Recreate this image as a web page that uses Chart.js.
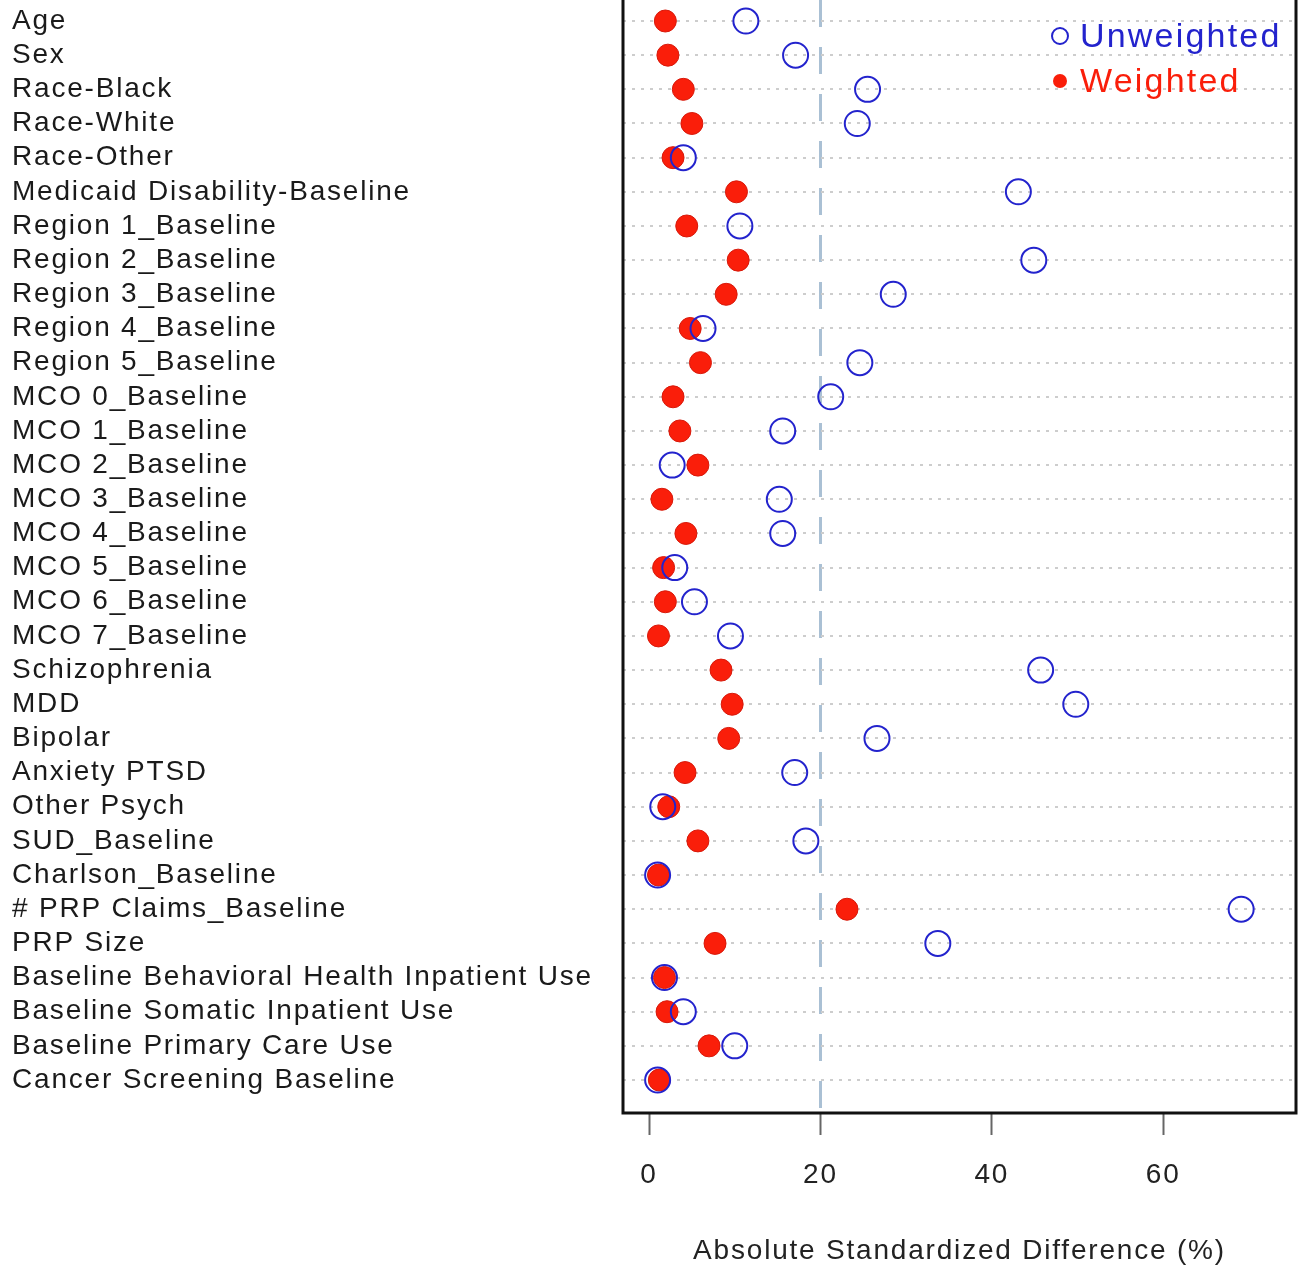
<!DOCTYPE html>
<html>
<head>
<meta charset="utf-8">
<script src="https://cdn.jsdelivr.net/npm/chart.js@4.4.1/dist/chart.umd.min.js"></script>
<style>
  html, body { margin: 0; padding: 0; background: #fff; }
  #wrap { width: 1306px; height: 1268px; }
</style>
</head>
<body>
<div id="wrap"><canvas id="dotChart"></canvas></div>
<script>
const covariates = [
    "Age", "Sex", "Race-Black", "Race-White", "Race-Other",
    "Medicaid Disability-Baseline",
    "Region 1_Baseline", "Region 2_Baseline", "Region 3_Baseline",
    "Region 4_Baseline", "Region 5_Baseline",
    "MCO 0_Baseline", "MCO 1_Baseline", "MCO 2_Baseline", "MCO 3_Baseline",
    "MCO 4_Baseline", "MCO 5_Baseline", "MCO 6_Baseline", "MCO 7_Baseline",
    "Schizophrenia", "MDD", "Bipolar", "Anxiety PTSD", "Other Psych",
    "SUD_Baseline", "Charlson_Baseline", "# PRP Claims_Baseline", "PRP Size",
    "Baseline Behavioral Health Inpatient Use",
    "Baseline Somatic Inpatient Use",
    "Baseline Primary Care Use",
    "Cancer Screening Baseline"
];

const unweighted = [
    11.3, 17.1, 25.5, 24.3, 4.0, 43.1,
    10.6, 44.9, 28.5, 6.3, 24.6,
    21.2, 15.6, 2.7, 15.2, 15.6, 3.0, 5.3, 9.5,
    45.7, 49.8, 26.6, 17.0, 1.6, 18.3,
    1.0, 69.1, 33.7, 1.8, 4.0, 10.0, 1.0
];

const weighted = [
    1.9, 2.2, 4.0, 5.0, 2.8, 10.2,
    4.4, 10.4, 9.0, 4.8, 6.0,
    2.8, 3.6, 5.7, 1.5, 4.3, 1.7, 1.9, 1.1,
    8.4, 9.7, 9.3, 4.2, 2.3, 5.7,
    1.1, 23.1, 7.7, 1.8, 2.1, 7.0, 1.2
];

const xTicks = [0, 20, 40, 60];
const refLine = 20;

const blue = "rgb(35, 35, 205)";
const red = "rgb(250, 30, 10)";
const font = "'Liberation Sans', Arial, sans-serif";

// letter spacing to match the wide-set R text
const spacing = {
    id: "spacing",
    beforeDraw(chart) {
        chart.ctx.letterSpacing = "1.8px";
    }
};

// left, bottom and right box lines (top is cut off)
const frame = {
    id: "frame",
    beforeDatasetsDraw(chart) {
        const { ctx, chartArea: a } = chart;
        ctx.save();
        ctx.strokeStyle = "#111";
        ctx.lineWidth = 3;
        ctx.setLineDash([]);
        ctx.beginPath();
        ctx.moveTo(a.left, a.top);
        ctx.lineTo(a.left, a.bottom);
        ctx.lineTo(a.right, a.bottom);
        ctx.lineTo(a.right, a.top);
        ctx.stroke();
        ctx.restore();
    }
};

// legend in the top right corner of the plot
const cornerLegend = {
    id: "cornerLegend",
    afterDraw(chart) {
        const { ctx } = chart;
        ctx.save();
        ctx.letterSpacing = "2.2px";
        ctx.font = "34px " + font;
        ctx.textBaseline = "middle";
        ctx.textAlign = "left";

        ctx.strokeStyle = blue;
        ctx.lineWidth = 2;
        ctx.beginPath();
        ctx.arc(1060, 36, 8, 0, Math.PI * 2);
        ctx.stroke();
        ctx.fillStyle = blue;
        ctx.fillText("Unweighted", 1080, 38);

        ctx.fillStyle = red;
        ctx.beginPath();
        ctx.arc(1060, 81, 7, 0, Math.PI * 2);
        ctx.fill();
        ctx.fillText("Weighted", 1080, 83);
        ctx.restore();
    }
};

const noPad = (scale) => {
    scale.paddingTop = 0;
    scale.paddingBottom = 0;
    scale.paddingLeft = 0;
    scale.paddingRight = 0;
};

const ctx = document.getElementById("dotChart").getContext("2d");
new Chart(ctx, {
    type: "scatter",
    data: {
        datasets: [
            {
                label: "Unweighted",
                data: unweighted.map((v, i) => ({ x: v, y: i })),
                pointRadius: 12.5,
                pointBorderWidth: 2,
                pointBackgroundColor: "rgba(0,0,0,0)",
                pointBorderColor: blue,
                order: 0
            },
            {
                label: "Weighted",
                data: weighted.map((v, i) => ({ x: v, y: i })),
                pointRadius: 11,
                pointBorderWidth: 1,
                pointBackgroundColor: red,
                pointBorderColor: "rgb(215, 25, 10)",
                order: 1
            }
        ]
    },
    options: {
        responsive: true,
        maintainAspectRatio: false,
        animation: false,
        layout: { autoPadding: false, padding: { left: 12, right: 10, top: 0, bottom: 0 } },
        plugins: {
            legend: { display: false },
            tooltip: { enabled: false }
        },
        scales: {
            x: {
                type: "linear",
                min: -3.04,
                max: 75.5,
                afterBuildTicks: (scale) => {
                    scale.ticks = xTicks.map(v => ({ value: v }));
                },
                afterFit: (scale) => { scale.height = 155; noPad(scale); },
                grid: {
                    drawOnChartArea: true,
                    drawTicks: true,
                    tickLength: 22,
                    lineWidth: 3,
                    tickWidth: 2,
                    tickColor: "#666",
                    color: (c) => (c.tick && c.tick.value === refLine) ? "rgb(170, 192, 212)" : "rgba(0,0,0,0)"
                },
                border: { display: false, dash: [27, 20] },
                ticks: {
                    padding: 23,
                    color: "#222",
                    font: { family: font, size: 28 }
                },
                title: {
                    display: true,
                    text: "Absolute Standardized Difference (%)",
                    color: "#222",
                    padding: { top: 0, bottom: 0 },
                    font: { family: font, size: 28 }
                }
            },
            y: {
                type: "linear",
                reverse: true,
                min: -0.615,
                max: 31.965,
                afterBuildTicks: (scale) => {
                    scale.ticks = covariates.map((_, i) => ({ value: i }));
                },
                afterFit: (scale) => { scale.width = 611; noPad(scale); },
                grid: {
                    drawTicks: false,
                    lineWidth: 2,
                    color: "rgb(205, 205, 205)"
                },
                border: { display: false, dash: [3, 6] },
                ticks: {
                    autoSkip: false,
                    crossAlign: "far",
                    padding: 0,
                    color: "#1a1a1a",
                    font: { family: font, size: 28 },
                    callback: (v) => covariates[v]
                }
            }
        }
    },
    plugins: [spacing, frame, cornerLegend]
});
</script>
</body>
</html>
